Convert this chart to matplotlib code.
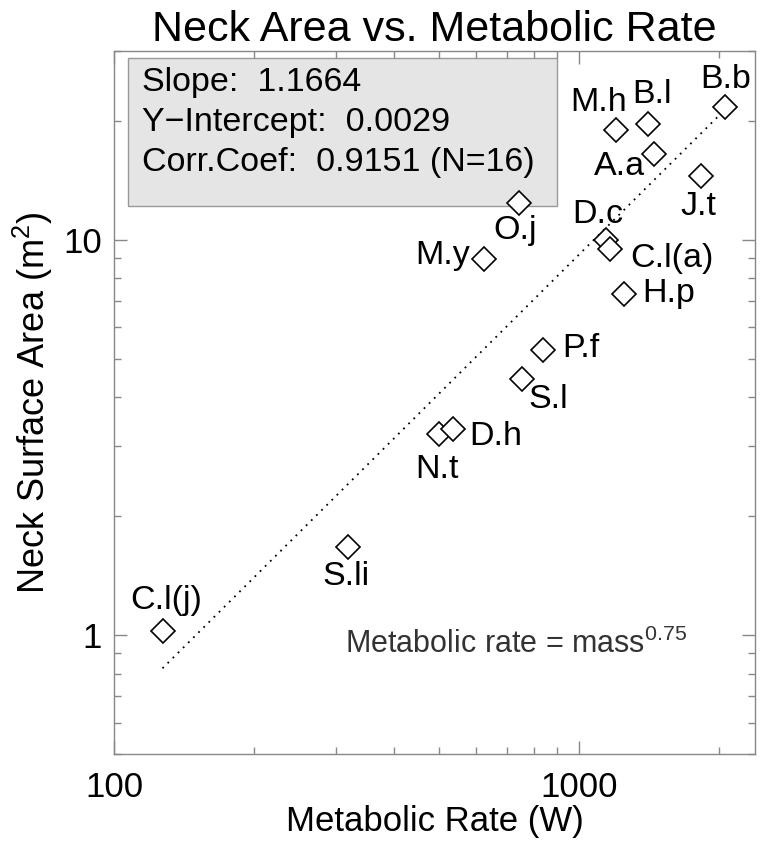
import matplotlib
matplotlib.use("Agg")
import matplotlib.pyplot as plt
from matplotlib.patches import Rectangle
from matplotlib.ticker import LogLocator, NullFormatter, FixedLocator, FixedFormatter

# species codes, metabolic rate (W) and neck surface area (m^2)
labels = ["B.b", "M.h", "B.l", "A.a", "J.t", "O.j", "M.y", "D.c",
          "C.l(a)", "H.p", "P.f", "S.l", "N.t", "D.h", "C.l(j)", "S.li"]
metabolic_rate = [2070, 1206, 1411, 1451, 1836, 745, 626, 1146,
                  1170, 1254, 838, 755, 499, 535, 127, 318]
neck_area = [21.6, 18.9, 19.6, 16.5, 14.5, 12.4, 8.95, 10.0,
             9.49, 7.30, 5.27, 4.45, 3.22, 3.33, 1.025, 1.67]

# label offsets in points (dx, dy) and horizontal alignment
label_pos = {
    "B.b": (0, 20, "center"), "M.h": (-13, 20, "center"), "B.l": (3, 21, "center"),
    "A.a": (-25, -9, "center"), "J.t": (-2, -22, "center"), "O.j": (-3, -20, "center"),
    "M.y": (-10, 2, "right"), "D.c": (-6, 18, "center"), "C.l(a)": (14, -7, "left"),
    "H.p": (13, 0, "left"), "P.f": (14, 1, "left"), "S.l": (19, -15, "center"),
    "N.t": (-1, -25, "center"), "D.h": (12, -6, "left"), "C.l(j)": (3, 22, "center"),
    "S.li": (-1, -21, "center"),
}

slope = 1.1664
intercept = 0.0029
corr = 0.9151
stats_lines = ["Slope:  %.4f" % slope,
               "Y\u2212Intercept:  %.4f" % intercept,
               "Corr.Coef:  %.4f (N=%d)" % (corr, len(labels))]

plt.rcParams["font.family"] = ["Liberation Sans", "DejaVu Sans"]
plt.rcParams["mathtext.default"] = "regular"

fig = plt.figure(figsize=(7.64, 8.47), dpi=100)
ax = fig.add_axes([0.1496, 0.1095, 0.839, 0.8303])

ax.set_xscale("log")
ax.set_yscale("log")
ax.set_xlim(100, 2400)
ax.set_ylim(0.5, 30)

# stats box sits under the markers
ax.add_patch(Rectangle((0.0214, 0.7796), 0.6697, 0.21, transform=ax.transAxes,
                       facecolor="#e5e5e5", edgecolor="#999999", linewidth=1, zorder=1))
for i, line in enumerate(stats_lines):
    ax.text(0.0432, 0.9546 - i * 0.0569, line, transform=ax.transAxes,
            ha="left", va="center", fontsize=24.5, zorder=1.5)

# fit line over the data range
xmin, xmax = min(metabolic_rate), max(metabolic_rate)
ax.plot([xmin, xmax], [intercept * xmin ** slope, intercept * xmax ** slope],
        linestyle=(0, (1, 3)), color="black", linewidth=1.3, zorder=2)

ax.plot(metabolic_rate, neck_area, linestyle="", marker="D", markersize=12.5,
        markerfacecolor="white", markeredgecolor="black", markeredgewidth=1.2, zorder=3)

for name, x, y in zip(labels, metabolic_rate, neck_area):
    dx, dy, ha = label_pos[name]
    ax.annotate(name, (x, y), xytext=(dx, dy), textcoords="offset points",
                ha=ha, va="center", fontsize=24.5, zorder=4)

ax.text(0.36, 0.144, "Metabolic rate = mass$^{0.75}$", transform=ax.transAxes,
        fontsize=22, color="#333333", ha="left", va="baseline")

ax.xaxis.set_major_locator(FixedLocator([100, 1000]))
ax.xaxis.set_major_formatter(FixedFormatter(["100", "1000"]))
ax.xaxis.set_minor_locator(LogLocator(base=10, subs=range(2, 10)))
ax.xaxis.set_minor_formatter(NullFormatter())
ax.yaxis.set_major_locator(FixedLocator([1, 10]))
ax.yaxis.set_major_formatter(FixedFormatter(["1", "10"]))
ax.yaxis.set_minor_locator(LogLocator(base=10, subs=range(2, 10)))
ax.yaxis.set_minor_formatter(NullFormatter())

ax.tick_params(which="both", direction="in", top=True, right=True, color="#888888",
               labelsize=25)
ax.tick_params(axis="x", pad=12)
ax.tick_params(axis="y", pad=9)
ax.tick_params(which="major", length=9.5, width=1)
ax.tick_params(which="minor", length=5, width=1)
for s in ax.spines.values():
    s.set_color("#888888")
    s.set_linewidth(1)

ax.set_xlabel("Metabolic Rate (W)", fontsize=25, labelpad=1)
ax.set_ylabel("Neck Surface Area (m$^2$)", fontsize=26, labelpad=6)
ax.set_title("Neck Area vs. Metabolic Rate", fontsize=31, pad=7)

fig.savefig("out.png", dpi=100)
